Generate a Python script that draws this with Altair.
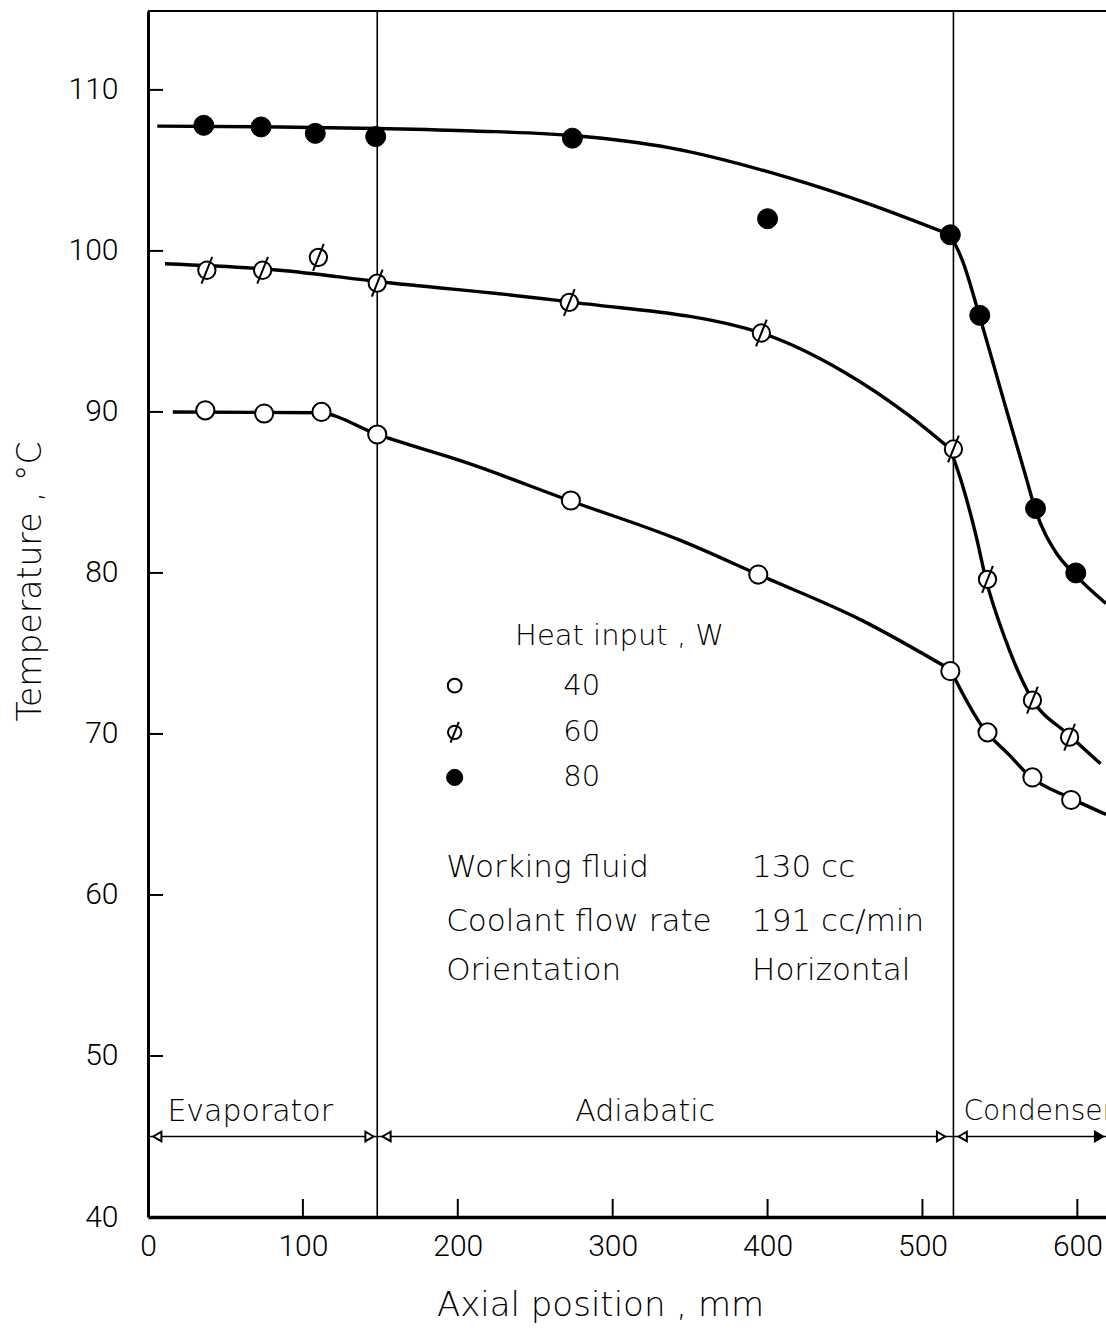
import altair as alt
import pandas as pd

# ---------------- data ----------------
# measured points (axial position mm, temperature C)
w40_x = [37, 75, 112, 148, 273, 394, 518, 542, 571, 596]
w40_t = [90.1, 89.9, 90.0, 88.6, 84.5, 79.9, 73.9, 70.1, 67.3, 65.9]

w60_x = [38, 74, 110, 148, 272, 396, 520, 542, 571, 595]
w60_t = [98.8, 98.8, 99.6, 98.0, 96.8, 94.9, 87.7, 79.6, 72.1, 69.8]

w80_x = [36, 73, 108, 147, 274, 400, 518, 537, 573, 599]
w80_t = [107.8, 107.7, 107.3, 107.1, 107.0, 102.0, 101.0, 96.0, 84.0, 80.0]

# hand-drawn fitted curves, split at the condenser inlet
c40a_x = [16, 110, 148, 207, 272, 343, 394, 460, 518]
c40a_t = [90.0, 89.95, 88.6, 86.8, 84.5, 82.05, 79.9, 77.1, 74.0]
c40b_x = [518, 526, 539, 556, 569, 596, 618.5]
c40b_t = [74.0, 72.5, 70.4, 68.7, 67.4, 66.0, 65.0]

c60a_x = [11, 85, 148, 271, 396, 449, 491, 518]
c60a_t = [99.2, 98.8, 98.1, 96.85, 94.9, 92.5, 89.8, 87.7]
c60b_x = [518, 526, 534.5, 541, 554, 569, 595, 615]
c60b_t = [87.7, 85.4, 82.35, 79.6, 75.75, 72.45, 69.9, 68.15]

c80a_x = [6, 85, 148, 210, 276, 337, 415, 463, 518]
c80a_t = [107.75, 107.7, 107.6, 107.45, 107.15, 106.4, 104.5, 103.0, 101.0]
c80b_x = [518, 526, 537, 554, 567, 573, 586, 598.5, 618.5]
c80b_t = [101.0, 99.35, 95.9, 90.2, 85.9, 83.9, 81.3, 79.9, 78.1]

x_ticks = [0, 100, 200, 300, 400, 500, 600]
y_ticks = [40, 50, 60, 70, 80, 90, 100, 110]

section_bounds = [0, 148, 520, 619]
section_names = ["Evaporator", "Adiabatic", "Condenser"]

legend_title = "Heat input , W"
legend_levels = ["40", "60", "80"]
info_names = ["Working fluid", "Coolant flow rate", "Orientation"]
info_values = ["130 cc", "191 cc/min", "Horizontal"]

# ---------------- layout ----------------
W, H = 958, 1206
FONT = "DejaVu Sans"
NUMFONT = "Roboto"
TW = 300  # light text weight

xs = alt.Scale(domain=[0, 618.5], nice=False, zero=False)
ys = alt.Scale(domain=[40, 114.9], nice=False, zero=False)

x_axis = alt.Axis(values=x_ticks, ticks=False, tickSize=0, grid=False,
                  domainColor="black", domainWidth=3.5,
                  labelFont=NUMFONT, labelFontSize=30, labelFontWeight=TW, labelColor="black",
                  labelPadding=14, labelFlush=False,
                  title="Axial position , mm", titleFont=FONT, titleFontSize=34,
                  titleFontWeight=TW, titleColor="black",
                  titleX=452, titleY=88, titleAlign="center", titleBaseline="middle")
y_axis = alt.Axis(values=y_ticks, ticks=False, tickSize=0, grid=False,
                  domainColor="black", domainWidth=3,
                  labelFont=NUMFONT, labelFontSize=30, labelFontWeight=TW, labelColor="black",
                  labelPadding=30, labelFlush=False,
                  title="Temperature , °C", titleFont=FONT, titleFontSize=33,
                  titleFontWeight=TW, titleColor="black",
                  titleAngle=270, titleX=-118, titleY=570,
                  titleAlign="center", titleBaseline="middle")


def X(field="x"):
    return alt.X(f"{field}:Q", scale=xs, axis=x_axis)


def Y(field="y"):
    return alt.Y(f"{field}:Q", scale=ys, axis=y_axis)


curves = pd.concat([
    pd.DataFrame({"x": c40a_x, "y": c40a_t, "s": "40a"}),
    pd.DataFrame({"x": c40b_x, "y": c40b_t, "s": "40b"}),
    pd.DataFrame({"x": c60a_x, "y": c60a_t, "s": "60a"}),
    pd.DataFrame({"x": c60b_x, "y": c60b_t, "s": "60b"}),
    pd.DataFrame({"x": c80a_x, "y": c80a_t, "s": "80a"}),
    pd.DataFrame({"x": c80b_x, "y": c80b_t, "s": "80b"}),
])
p40 = pd.DataFrame({"x": w40_x, "y": w40_t})
p60 = pd.DataFrame({"x": w60_x, "y": w60_t})
p80 = pd.DataFrame({"x": w80_x, "y": w80_t})

SLASH = "M1,0A1,1,0,1,1,-1,0A1,1,0,1,1,1,0Z M-0.62,1.55L0.62,-1.55"


def txt(df, size=30, align="left"):
    return alt.Chart(df).mark_text(font=FONT, fontSize=size, fontWeight=TW, color="black",
                                   align=align, baseline="middle").encode(
        x=X(), y=Y(), text="t:N")


# inward ticks
xt = alt.Chart(pd.DataFrame({"x": x_ticks[1:]})).mark_rule(color="black", strokeWidth=2).encode(
    x=X(), y=alt.value(H), y2=alt.value(H - 18))
yt = alt.Chart(pd.DataFrame({"y": y_ticks[1:]})).mark_rule(color="black", strokeWidth=2).encode(
    y=Y(), x=alt.value(0), x2=alt.value(15))
top = alt.Chart(pd.DataFrame({"x": [0]})).mark_rule(color="black", strokeWidth=2.2).encode(
    x=alt.value(0), x2=alt.value(W), y=alt.value(0))

# section boundaries
vlines = alt.Chart(pd.DataFrame({"x": section_bounds[1:3]})).mark_rule(
    color="black", strokeWidth=1.6).encode(x=X())

seg = pd.DataFrame({"x": section_bounds[:-1], "x2": section_bounds[1:], "y": [45] * 3})
arrows = alt.Chart(seg).mark_rule(color="black", strokeWidth=1.6, clip=True).encode(
    x=X(), x2="x2:Q", y=Y())

heads = pd.DataFrame({
    "x": [6, 143, 154, 512, 526, 614],
    "y": [45] * 6,
    "shape": ["triangle-left", "triangle-right", "triangle-left", "triangle-right",
              "triangle-left", "triangle-right"],
    "fill": ["white", "white", "white", "white", "white", "black"],
})
heads_l = alt.Chart(heads).mark_point(size=90, stroke="black", strokeWidth=2, opacity=1,
                                      filled=True).encode(
    x=X(), y=Y(), shape=alt.Shape("shape:N", scale=None),
    fill=alt.Fill("fill:N", scale=None))

sec_text = txt(pd.DataFrame({"x": [66, 321], "y": [46.5, 46.5], "t": section_names[:2]}),
               size=30, align="center")
cond_text = txt(pd.DataFrame({"x": [526.5], "y": [46.5], "t": [section_names[2]]}), size=28)

lines = alt.Chart(curves).mark_line(color="black", strokeWidth=3.4, interpolate="monotone",
                                    clip=True).encode(x=X(), y=Y(), detail="s:N")

pts40 = alt.Chart(p40).mark_point(shape="circle", size=330, fill="white", stroke="black",
                                  strokeWidth=2, opacity=1, filled=True).encode(x=X(), y=Y())
pts60 = alt.Chart(p60).mark_point(shape=SLASH, size=300, fill="white", stroke="black",
                                  strokeWidth=2, opacity=1, filled=True).encode(x=X(), y=Y())
pts80 = alt.Chart(p80).mark_point(shape="circle", size=400, fill="black", stroke="black",
                                  strokeWidth=1, opacity=1, filled=True).encode(x=X(), y=Y())

# legend drawn inside plot
leg_title = txt(pd.DataFrame({"x": [237], "y": [76.1], "t": [legend_title]}), size=29)
leg_num = txt(pd.DataFrame({"x": [280] * 3, "y": [73.0, 70.1, 67.3], "t": legend_levels}),
              size=29, align="center")
lg40 = alt.Chart(pd.DataFrame({"x": [198], "y": [73.0]})).mark_point(
    shape="circle", size=190, fill="white", stroke="black", strokeWidth=2, opacity=1,
    filled=True).encode(x=X(), y=Y())
lg60 = alt.Chart(pd.DataFrame({"x": [198], "y": [70.1]})).mark_point(
    shape=SLASH, size=180, fill="white", stroke="black", strokeWidth=2, opacity=1,
    filled=True).encode(x=X(), y=Y())
lg80 = alt.Chart(pd.DataFrame({"x": [198], "y": [67.3]})).mark_point(
    shape="circle", size=260, fill="black", stroke="black", strokeWidth=1, opacity=1,
    filled=True).encode(x=X(), y=Y())

info_l = txt(pd.DataFrame({"x": [192.5] * 3, "y": [61.7, 58.3, 55.3], "t": info_names}), size=31)
info_r = txt(pd.DataFrame({"x": [390] * 3, "y": [61.7, 58.3, 55.3], "t": info_values}), size=31)

chart = alt.layer(
    vlines, arrows, heads_l, sec_text, cond_text, xt, yt, top,
    lines, pts40, pts60, pts80,
    leg_title, leg_num, lg40, lg60, lg80, info_l, info_r,
).properties(
    width=W, height=H,
    autosize=alt.AutoSizeParams(type="none"),
    padding={"left": 148, "top": 11, "right": 0, "bottom": 119},
    background="white",
).configure_view(strokeWidth=0)

chart.save("out.html", embed_options={"renderer": "svg", "actions": False})
